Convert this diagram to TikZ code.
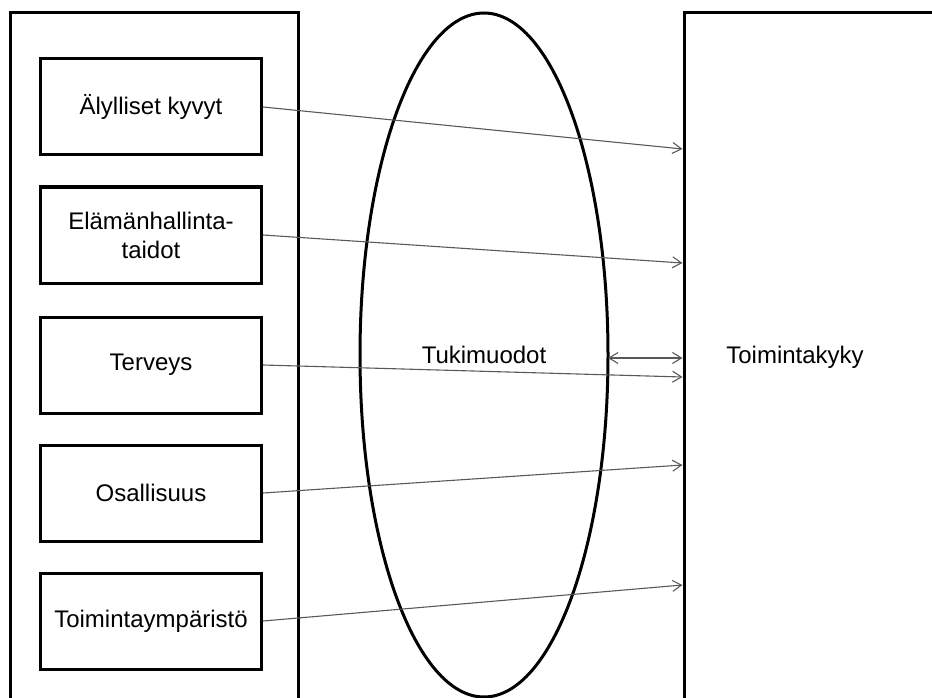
\documentclass[tikz,border=0pt]{standalone}
\usepackage{fontspec}
\setmainfont{Liberation Sans}
\usetikzlibrary{shapes.geometric,arrows.meta}

\tikzset{
  frame/.style={draw=black, line width=3pt, rectangle, inner sep=0pt},
  factor/.style={draw=black, line width=3pt, rectangle, minimum width=221pt,
    minimum height=96pt, inner sep=0pt, align=center,
    font=\fontsize{24}{29}\selectfont},
  support/.style={draw=black, line width=3pt, ellipse, minimum width=248pt,
    minimum height=684pt, inner sep=0pt, font=\fontsize{24}{29}\selectfont},
  label/.style={font=\fontsize{24}{29}\selectfont, inner sep=0pt},
  link/.style={draw=black!65, line width=1.1pt,
    -{Straight Barb[length=9pt,width=11pt]}},
  duallink/.style={draw=black!65, line width=1.1pt,
    {Straight Barb[length=9pt,width=11pt]}-{Straight Barb[length=9pt,width=11pt]}}
}

\begin{document}
\begin{tikzpicture}[x=1pt,y=-1pt]
  \useasboundingbox (0,0) rectangle (932,698);
  \clip (0,0) rectangle (932,698);

  % container of the factors and the target frame
  \node[frame, minimum width=288pt, minimum height=720pt] (left) at (154,373) {};
  \node[frame, minimum width=300pt, minimum height=720pt] (right) at (834,373) {};
  \node[label] (ability) at (795,357) {Toimintakyky};

  % supporting forms
  \node[support] (tuki) at (484,355) {Tukimuodot};

  % factor boxes
  \node[factor] (f1) at (151,107) {Älylliset kyvyt};
  \node[factor] (f2) at (151,235) {Elämänhallinta-\\taidot};
  \node[factor] (f3) at (151,365) {Terveys};
  \node[factor] (f4) at (151,493) {Osallisuus};
  \node[factor] (f5) at (151,621) {Toimintaympäristö};

  % arrow ends on the target frame
  \coordinate (e1) at (right.west |- 0,149);
  \coordinate (e2) at (right.west |- 0,263);
  \coordinate (e3) at (right.west |- 0,377);
  \coordinate (e4) at (right.west |- 0,465);
  \coordinate (e5) at (right.west |- 0,585);
  \coordinate (d1) at (608,358);
  \coordinate (d2) at (right.west |- 0,358);

  \draw[link] (f1.east) -- (e1);
  \draw[link] (f2.east) -- (e2);
  \draw[link] (f3.east) -- (e3);
  \draw[link] (f4.east) -- (e4);
  \draw[link] (f5.east) -- (e5);
  \draw[duallink] (d1) -- (d2);
\end{tikzpicture}
\end{document}
